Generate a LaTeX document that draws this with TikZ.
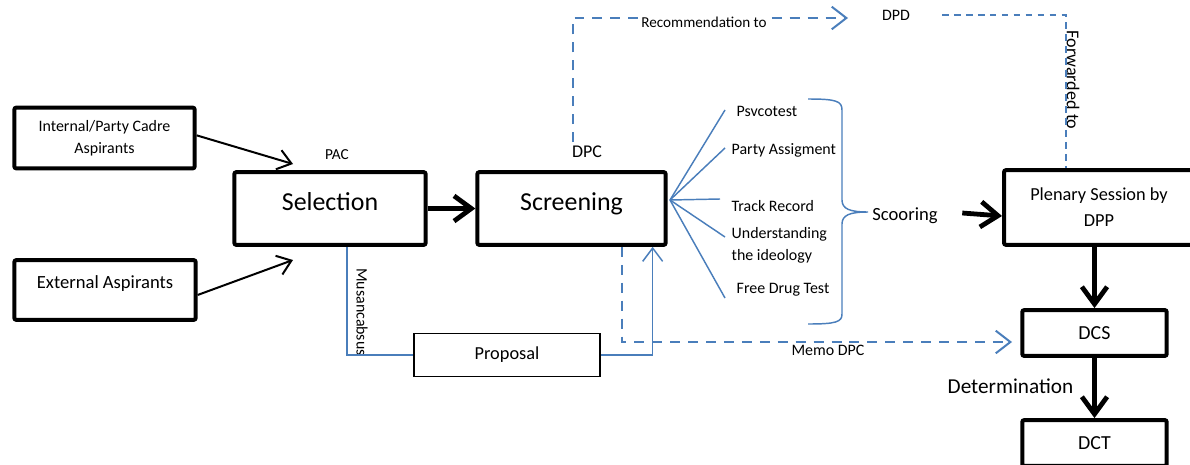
\documentclass[tikz,border=0pt]{standalone}
\usepackage{fontspec}
\setmainfont{Carlito}
\usetikzlibrary{arrows.meta,calc}
\definecolor{lineblue}{RGB}{74,126,187}

\begin{document}
\begin{tikzpicture}[x=0.2646mm,y=-0.2646mm,
    box/.style={draw,line width=3pt,rounded corners=1.5pt,inner sep=0pt,align=center},
    fs/.style 2 args={font=\fontsize{#1}{#2}\selectfont},
    thinarr/.style={line width=1.5pt,-{Straight Barb[length=10pt,width=15pt]}},
    fatarr/.style={line width=3.6pt,-{Straight Barb[length=13pt,width=19pt]}},
    blueln/.style={lineblue,line width=1.1pt},
    bluedash/.style={lineblue,line width=1.5pt,dash pattern=on 7.5pt off 6pt},
    bluetip/.style={-{Straight Barb[length=11pt,width=17pt]}}]
  \clip (0,0) rectangle (1190,464);

  % boxes
  \node[box,minimum width=135.75pt,minimum height=45.75pt,fs={12}{16.5}] (int) at (104.5,138) {Internal/Party Cadre\\Aspirants};
  \node[box,minimum width=136.5pt,minimum height=45pt] (ext) at (105,290) {};
  \node[fs={14}{17}] (exttxt) at (105,284) {External Aspirants};
  \node[box,minimum width=144pt,minimum height=54.75pt,fs={19.5}{23},text height=14pt,text depth=10.5pt] (sel) at (330,208.5) {Selection};
  \node[box,minimum width=141.75pt,minimum height=54.75pt,fs={19.5}{23},text height=14pt,text depth=10.5pt] (scr) at (571.5,208.5) {Screening};
  \node[box,minimum width=143pt,minimum height=56.25pt,fs={13.8}{19.5}] (plen) at (1099,207.5) {Plenary Session by\\DPP};
  \node[box,minimum width=108.75pt,minimum height=34.5pt,fs={15}{18}] (dcs) at (1094.5,333) {DCS};
  \node[box,minimum width=108.75pt,minimum height=34.5pt,fs={15}{18}] (dct) at (1094.5,443) {DCT};
  \node[draw,line width=1pt,inner sep=0pt,minimum width=140.25pt,minimum height=32.25pt,fs={13.8}{17}] (prop) at (507,355) {Proposal};

  % labels
  \node[fs={11.5}{14}] (pac) at (337,155) {PAC};
  \node[fs={13.5}{16}] (dpc) at (587,152) {DPC};
  \node[fs={12}{14}] (dpd) at (896,15) {DPD};
  \node[fs={14}{17}] (scoo) at (905,216) {Scooring};
  \node[fs={12}{14}] (memo) at (828,350) {Memo DPC};
  \node[fs={16}{19},anchor=east] (det) at (1078,386) {Determination};
  \node[fs={12}{14},rotate=-90] (musa) at (362,312) {Musancabsus};
  \node[fs={13.6}{16},rotate=-90] (fwd) at (1073,80) {Forwarded to};

  % scoring items
  \node[fs={12}{14},anchor=west] (psy) at (732,111) {Psvcotest};
  \node[fs={12}{14},anchor=west] (asg) at (727,150) {Party Assigment};
  \node[fs={12}{14},anchor=west] (trk) at (727,206) {Track Record};
  \node[fs={12}{16.5},anchor=west,align=left] (ideo) at (727,245) {Understanding\\the ideology};
  \node[fs={12}{14},anchor=west] (drug) at (732,290) {Free Drug Test};

  % black arrows
  \coordinate (pacin) at (293,164);
  \coordinate (extin) at (293,260);
  \draw[thinarr] ([yshift=2pt]int.east) -- (pacin);
  \draw[thinarr] ([yshift=-3.75pt]ext.east) -- (extin);
  \draw[fatarr] (sel.east) -- (scr.west);
  \draw[fatarr] ($(scoo.east)+(20,-3)$) -- (scoo.east -| plen.west);
  \draw[fatarr] (plen.south -| dcs.north) -- (dcs.north);
  \draw[fatarr] (dcs.south) -- (dct.north);

  % fan to the scoring items
  \coordinate (fan) at (670,200);
  \foreach \n/\y in {1/110,2/148,3/199,4/237,5/298}
    \coordinate (f\n) at (725,\y);
  \coordinate (f3) at (720,199);
  \foreach \n in {1,...,5}
    \draw[blueln] (fan) -- (f\n);

  % brace
  \draw[blueln] (808,99) .. controls (836,99) and (842,101) .. (842,110) -- (842,200)
    .. controls (842,209) and (850,212) .. (868,212)
    .. controls (850,212) and (842,215) .. (842,224) -- (842,314)
    .. controls (842,322) and (836,324) .. (808,324);

  % blue connectors
  \coordinate (dpctop) at (573,142);
  \coordinate (recend) at (848,18);
  \draw[bluedash,bluetip] (dpctop) |- (recend);
  \node[fs={11.4}{14},fill=white,inner sep=1pt] (rec) at (704,22) {Recommendation to};
  \coordinate (fwdstart) at (942,15);
  \draw[lineblue,line width=1.1pt,dash pattern=on 5pt off 4pt] (fwdstart) -| ([xshift=-24.75pt]plen.north);
  \coordinate (memoend) at (1012,342);
  \draw[bluedash,bluetip] ([xshift=37.9pt]scr.south) |- (memoend);
  \draw[blueln] ([xshift=12.75pt]sel.south) |- (prop.west);
  \draw[blueln,-{Straight Barb[length=10pt,width=15pt]}] (prop.east) -| ([xshift=61.1pt]scr.south);
\end{tikzpicture}
\end{document}
